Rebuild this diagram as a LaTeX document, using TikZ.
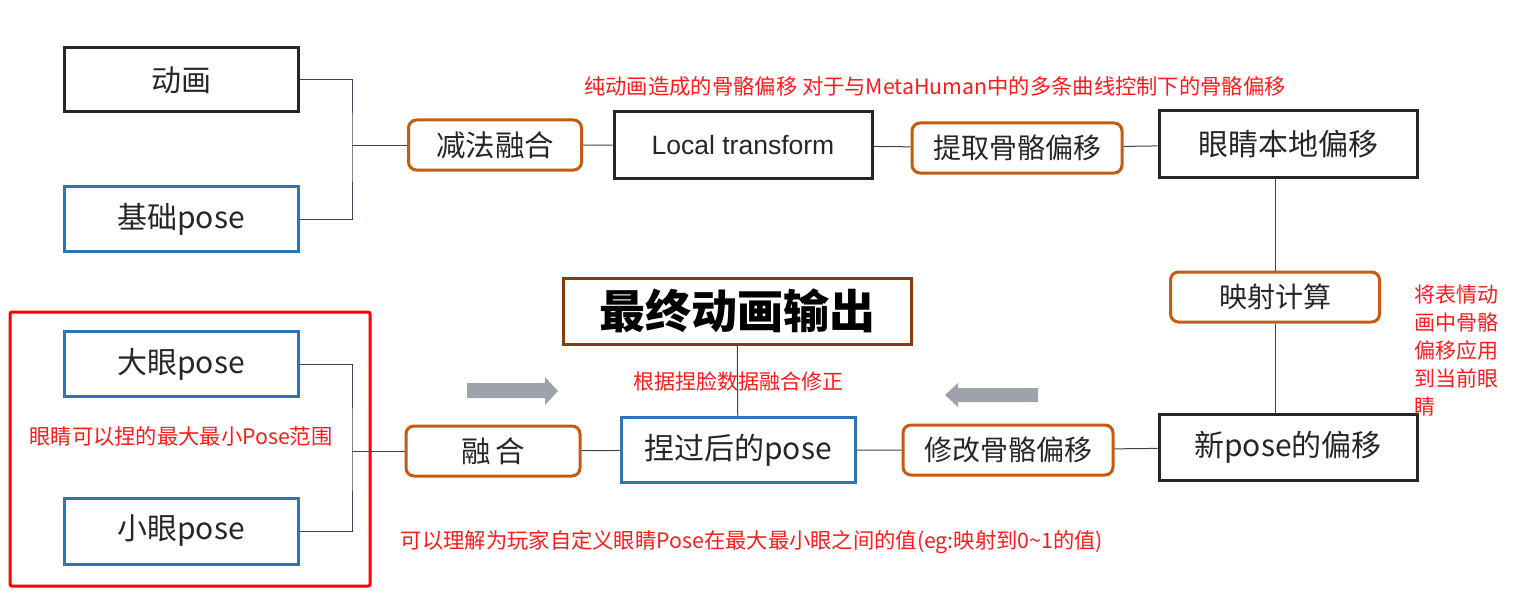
\documentclass[tikz,border=0pt]{standalone}
\usepackage{fontspec}
\setmainfont{Noto Sans CJK SC}
\newfontfamily\latinfont{Liberation Sans}
\definecolor{boxblack}{HTML}{262626}
\definecolor{boxblue}{HTML}{2E75B6}
\definecolor{boxorange}{HTML}{C55A11}
\definecolor{boxbrown}{HTML}{843C0C}
\definecolor{linkgray}{HTML}{3B4453}
\definecolor{arrowgray}{HTML}{9EA3AB}
\definecolor{notered}{HTML}{FF1A1A}

\begin{document}
\begin{tikzpicture}[x=1pt,y=-1pt,
  base/.style={draw, line width=3pt, inner sep=0pt, text=boxblack,
    font=\fontsize{30}{36}\selectfont},
  blackbox/.style={base, draw=boxblack, minimum width=258pt, minimum height=66pt},
  posebox/.style={base, draw=boxblue, minimum width=234pt, minimum height=65pt},
  opbox/.style={base, draw=boxorange, rounded corners=8pt, minimum height=50pt,
    font=\fontsize{28}{34}\selectfont},
  note/.style={text=notered, inner sep=0pt, font=\fontsize{21.3}{28}\selectfont},
  link/.style={draw=linkgray, line width=1pt}]
  \useasboundingbox (0,0) rectangle (1525,599);

  %%%%% top row
  \node[blackbox, minimum width=234pt, minimum height=64pt] (anim) at (181,80) {动画};
  \node[posebox] (basepose) at (181,219) {基础pose};
  \node[opbox, minimum width=173pt, font=\fontsize{29.5}{34}\selectfont] (sub) at (495,145) {减法融合};
  \node[blackbox, font=\latinfont\fontsize{26.5}{32}\selectfont] (local) at (743,145) {Local transform};
  \node[opbox, minimum width=210pt] (extract) at (1017,148) {提取骨骼偏移};
  \node[blackbox] (eyeoff) at (1288,144) {眼睛本地偏移};

  %%%%% right column
  \node[opbox, minimum width=209pt] (map) at (1275,297) {映射计算};
  \node[blackbox] (newoff) at (1288,447) {新pose的偏移};

  %%%%% bottom row
  \node[opbox, minimum width=210pt] (modify) at (1008,450) {修改骨骼偏移};
  \node[posebox] (pinched) at (738,450) {捏过后的pose};
  \node[opbox, minimum width=174pt, font=\fontsize{29.5}{34}\selectfont] (blend) at (493,451) {融\,合};
  \node[base, draw=boxbrown, text=black, minimum width=348pt, minimum height=66pt,
    font=\fontsize{46}{52}\selectfont\bfseries] (final) at (737,311) {最终动画输出};
  \node[posebox] (bigeye) at (181,364) {大眼pose};
  \node[posebox, minimum height=66pt] (smalleye) at (181,531) {小眼pose};
  \draw[red, line width=3pt, rounded corners=2pt] (10,312) rectangle (370,586);

  %%%%% connectors
  \coordinate (j1) at (352,145);
  \coordinate (j2) at (352,451);
  \draw[link] (anim.east) -| (j1) |- (basepose.east);
  \draw[link] (j1) -- (sub.west);
  \draw[link] (sub) -- (local) -- (extract) -- (eyeoff);
  \draw[link] (eyeoff.south -| map) -- (map) -- (newoff.north -| map);
  \draw[link] (newoff) -- (modify) -- (pinched) -- (blend);
  \draw[link] (final) -- (pinched);
  \draw[link] (bigeye.east) -| (j2) |- (smalleye.east);
  \draw[link] (j2) -- (blend.west);

  %%%%% gray arrows
  \fill[arrowgray] (467,383) -- (545,383) -- (545,377) -- (558,391) -- (545,405)
    -- (545,398) -- (467,398) -- cycle;
  \fill[arrowgray] (1038,388) -- (958,388) -- (958,383) -- (945,395) -- (958,407)
    -- (958,402) -- (1038,402) -- cycle;

  %%%%% notes
  \node[note] (n1) at (935,86) {纯动画造成的骨骼偏移 对于与MetaHuman中的多条曲线控制下的骨骼偏移};
  \node[note, font=\fontsize{21}{28}\selectfont] (n2) at (738,381) {根据捏脸数据融合修正};
  \node[note] (n3) at (181,436) {眼睛可以捏的最大最小Pose范围};
  \node[note] (n4) at (752,542) {可以理解为玩家自定义眼睛Pose在最大最小眼之间的值(eg:映射到0\textasciitilde1的值)};
  \node[note, font=\fontsize{21}{28}\selectfont, align=left, anchor=west] (n5) at (1414,351)
    {将表情动\\画中骨骼\\偏移应用\\到当前眼\\睛};
\end{tikzpicture}
\end{document}
